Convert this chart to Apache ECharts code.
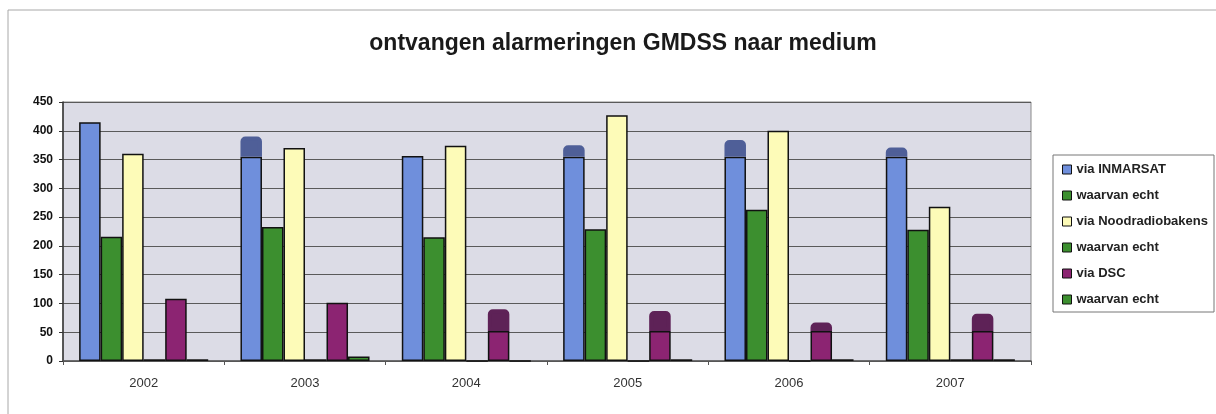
<!DOCTYPE html>
<html>
<head>
<meta charset="utf-8">
<title>ontvangen alarmeringen GMDSS naar medium</title>
<script src="https://cdn.jsdelivr.net/npm/echarts@6/dist/echarts.min.js"></script>
<style>
  html, body { margin: 0; padding: 0; background: #fff; }
  #chart { width: 1216px; height: 414px; }
</style>
</head>
<body>
<div id="chart"></div>
<script>
  // jaren
  var years = ['2002', '2003', '2004', '2005', '2006', '2007']
  // drie keer "waarvan echt": met #n uniek gemaakt, in de legenda weggeknipt
  var legendNames = ['via INMARSAT', 'waarvan echt#1', 'via Noodradiobakens', 'waarvan echt#2', 'via DSC', 'waarvan echt#3']

  // waarden
  var inmarsat = [415, 390, 356, 375, 384, 371]
  var inmarsatEcht = [216, 233, 215, 229, 263, 228]
  var noodradio = [360, 370, 374, 427, 400, 268]
  var noodradioEcht = [3, 3, 0, 0, 0, 3]
  var dsc = [108, 101, 90, 87, 67, 82]
  var dscEcht = [3, 8, 0, 3, 3, 3]

  // donkere "opgeplakte" kapjes: hoogte van de oude balk waar het kapje begint
  var inmarsatOud = [null, 355, null, 355, 355, 355]
  var dscOud = [null, null, 52, 52, 52, 52]

  function base(vals, oud) {
    return vals.map(function (v, i) { return oud[i] == null ? v : oud[i] })
  }
  function cap(vals, oud) {
    return vals.map(function (v, i) { return oud[i] == null ? '-' : v - oud[i] })
  }

  var chart = echarts.init(document.getElementById('chart'))

  var barStyle = function (color) {
    return {
      color: color,
      borderColor: '#111',
      borderWidth: 1.5
    }
  }
  var capStyle = function (color) {
    return {
      color: color,
      borderColor: color,
      borderWidth: 4,
      borderRadius: [3, 3, 0, 0]
    }
  }

  chart.setOption({
    animation: false,
    textStyle: { fontFamily: 'Liberation Sans, Arial, sans-serif' },
    title: {
      text: 'ontvangen alarmeringen GMDSS naar medium',
      left: 618,
      textAlign: 'center',
      top: 27,
      textStyle: { fontSize: 23, fontWeight: 'bold', color: '#1a1a1a', fontFamily: 'Liberation Sans, Arial, sans-serif' }
    },
    graphic: [
      { type: 'line', shape: { x1: 8, y1: 10, x2: 1216, y2: 10 }, style: { stroke: '#a8a8a8', lineWidth: 1 } },
      { type: 'line', shape: { x1: 8, y1: 10, x2: 8, y2: 414 }, style: { stroke: '#a8a8a8', lineWidth: 1 } },
      { type: 'rect', shape: { x: 1053, y: 155, width: 161, height: 157 }, style: { fill: '#fff', stroke: '#777', lineWidth: 1 }, z: 0 }
    ],
    legend: {
      data: legendNames,
      orient: 'vertical',
      left: 1057,
      top: 158,
      icon: 'rect',
      itemWidth: 9,
      itemHeight: 9,
      itemGap: 13,
      itemStyle: { borderColor: '#111', borderWidth: 1 },
      formatter: function (name) { return name.split('#')[0] },
      textStyle: { fontSize: 13, fontWeight: 'bold', color: '#222' },
      selectedMode: false
    },
    grid: {
      left: 63,
      right: 185,
      top: 102,
      bottom: 53,
      show: true,
      backgroundColor: '#dcdce6',
      borderColor: '#8a8a8a',
      borderWidth: 1
    },
    xAxis: {
      type: 'category',
      data: years,
      axisLine: { lineStyle: { color: '#555', width: 1.5 } },
      axisTick: { show: true, length: 4, lineStyle: { color: '#555' } },
      axisLabel: { fontSize: 13, color: '#333', margin: 16 }
    },
    yAxis: {
      type: 'value',
      min: 0,
      max: 450,
      interval: 50,
      axisLine: { show: true, lineStyle: { color: '#333', width: 1.5 } },
      axisTick: { show: true, length: 4, lineStyle: { color: '#333' } },
      axisLabel: { fontSize: 12, fontWeight: 'bold', color: '#111', margin: 10 },
      splitLine: { lineStyle: { color: '#5a5a5a', width: 1 } }
    },
    series: [
      {
        name: legendNames[0], type: 'bar', stack: 'inm',
        barCategoryGap: '20%', barGap: '0%',
        itemStyle: barStyle('#6f8fdc'),
        data: base(inmarsat, inmarsatOud)
      },
      {
        name: 'inmarsat kapje', type: 'bar', stack: 'inm', z: 3,
        itemStyle: capStyle('#4f5f98'),
        data: cap(inmarsat, inmarsatOud)
      },
      {
        name: legendNames[1], type: 'bar',
        itemStyle: barStyle('#3c8f2f'),
        data: inmarsatEcht
      },
      {
        name: legendNames[2], type: 'bar',
        itemStyle: barStyle('#fdfbb8'),
        data: noodradio
      },
      {
        name: legendNames[3], type: 'bar',
        itemStyle: barStyle('#3c8f2f'),
        data: noodradioEcht
      },
      {
        name: legendNames[4], type: 'bar', stack: 'dsc',
        itemStyle: barStyle('#8c2472'),
        data: base(dsc, dscOud)
      },
      {
        name: 'dsc kapje', type: 'bar', stack: 'dsc', z: 3,
        itemStyle: capStyle('#5e2257'),
        data: cap(dsc, dscOud)
      },
      {
        name: legendNames[5], type: 'bar',
        itemStyle: barStyle('#3c8f2f'),
        data: dscEcht
      }
    ]
  })
</script>
</body>
</html>
